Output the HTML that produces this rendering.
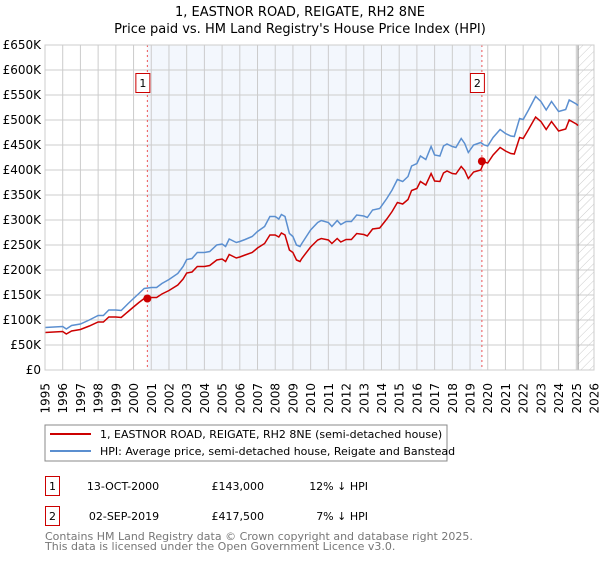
<!DOCTYPE html>
<html><head><meta charset="utf-8"><style>
body{margin:0;background:#fff;font-family:"DejaVu Sans","Liberation Sans",sans-serif;}
svg text{font-family:"DejaVu Sans","Liberation Sans",sans-serif;}
</style></head><body>
<svg id="chart" width="600" height="560" xmlns="http://www.w3.org/2000/svg">
<defs><pattern id="hatch" width="6" height="6" patternUnits="userSpaceOnUse" patternTransform="rotate(45)"><line x1="0" y1="0" x2="0" y2="6" stroke="#ccc" stroke-width="1"/></pattern></defs>
<text x="300" y="16" text-anchor="middle" font-size="13">1, EASTNOR ROAD, REIGATE, RH2 8NE</text>
<text x="300" y="33" text-anchor="middle" font-size="13">Price paid vs. HM Land Registry's House Price Index (HPI)</text>
<g id="plot"></g>
<rect x="45" y="425" width="402" height="36" fill="#fff" stroke="#888"/>
<line x1="50" y1="434" x2="91" y2="434" stroke="#cc0000" stroke-width="2"/>
<text x="100" y="438" font-size="11">1, EASTNOR ROAD, REIGATE, RH2 8NE (semi-detached house)</text>
<line x1="50" y1="451" x2="91" y2="451" stroke="#5b8fd0" stroke-width="2"/>
<text x="100" y="455" font-size="11">HPI: Average price, semi-detached house, Reigate and Banstead</text>
<g>
<rect x="45.5" y="476.5" width="14" height="19" fill="#fff" stroke="#c00"/>
<text x="52.5" y="490" text-anchor="middle" font-size="11">1</text>
<text x="123" y="490" text-anchor="middle" font-size="11">13-OCT-2000</text>
<text x="264" y="490" text-anchor="end" font-size="11">£143,000</text>
<text x="368" y="490" text-anchor="end" font-size="11">12% ↓ HPI</text></g>
<g>
<rect x="45.5" y="506.5" width="14" height="19" fill="#fff" stroke="#c00"/>
<text x="52.5" y="520" text-anchor="middle" font-size="11">2</text>
<text x="124" y="520" text-anchor="middle" font-size="11">02-SEP-2019</text>
<text x="264" y="520" text-anchor="end" font-size="11">£417,500</text>
<text x="368" y="520" text-anchor="end" font-size="11">7% ↓ HPI</text></g>
<text x="45" y="540" font-size="11" fill="#777">Contains HM Land Registry data © Crown copyright and database right 2025.</text>
<text x="45" y="550" font-size="11" fill="#777">This data is licensed under the Open Government Licence v3.0.</text>
</svg>
<script>
const years = [1995,1996,1996.2,1996.5,1997,1997.5,1998,1998.3,1998.6,1999,1999.3,1999.7,2000,2000.3,2000.6,2001,2001.3,2001.6,2002,2002.5,2002.8,2003,2003.3,2003.6,2004,2004.3,2004.7,2005,2005.2,2005.4,2005.8,2006,2006.3,2006.7,2007,2007.4,2007.7,2008,2008.2,2008.35,2008.55,2008.8,2009,2009.2,2009.4,2009.5,2010,2010.4,2010.6,2011,2011.2,2011.5,2011.7,2012,2012.3,2012.6,2013,2013.2,2013.5,2013.9,2014.3,2014.6,2014.9,2015.2,2015.5,2015.7,2016,2016.2,2016.5,2016.8,2017,2017.3,2017.5,2017.7,2018,2018.2,2018.5,2018.7,2018.9,2019.2,2019.6,2019.8,2020,2020.3,2020.7,2021,2021.3,2021.5,2021.8,2022,2022.3,2022.7,2023,2023.3,2023.6,2024,2024.4,2024.6,2025,2025.1];
const hpiValues = [85,87,82,89,92,100,109,109,120,120,119,133,143,153,163,165,165,173,181,193,207,221,223,235,235,237,250,252,247,262,255,257,261,267,277,287,307,307,302,311,307,273,267,250,247,253,280,295,299,295,287,299,291,297,297,310,308,305,320,323,343,360,381,377,387,408,413,428,421,447,430,428,448,452,447,445,463,453,435,450,455,450,448,465,481,473,468,467,503,501,520,547,537,520,537,517,521,540,532,529];
const priceValues = [75,77,72,78,81,88,96,96,106,106,105,117,126,135,143,145,145,152,159,170,182,194,196,207,207,209,220,222,217,231,224,226,230,235,244,253,270,270,266,274,270,240,235,220,217,223,246,260,263,260,253,263,256,261,261,273,271,268,282,284,302,317,335,332,341,359,363,377,370,393,378,377,394,398,393,392,407,399,383,396,400,416,414,430,445,438,433,432,465,463,481,506,497,481,497,478,482,500,492,489];
const yTicks = [0,50,100,150,200,250,300,350,400,450,500,550,600,650];
const yTickLabels = ["£0","£50K","£100K","£150K","£200K","£250K","£300K","£350K","£400K","£450K","£500K","£550K","£600K","£650K"];
const xTicks = [1995,1996,1997,1998,1999,2000,2001,2002,2003,2004,2005,2006,2007,2008,2009,2010,2011,2012,2013,2014,2015,2016,2017,2018,2019,2020,2021,2022,2023,2024,2025,2026];
const saleYears = [2000.78,2019.67];
const salePrices = [143,417.5];
const saleLabels = ["1","2"];
const X0=45,X1=594,Y0=370,Y1=45,xmin=1995,xmax=2026,ymax=650;
const x=v=>X0+(v-xmin)/(xmax-xmin)*(X1-X0);
const y=v=>Y0-v/ymax*(Y0-Y1);
const NS="http://www.w3.org/2000/svg";
const g=document.getElementById('plot');
function mk(t,a){const e=document.createElementNS(NS,t);for(const k in a)e.setAttribute(k,a[k]);g.appendChild(e);return e;}
let e;
e=mk('rect',{x:x(saleYears[0]),y:Y1,width:x(saleYears[1])-x(saleYears[0]),height:Y0-Y1,fill:'#eef3fc',opacity:0.7});


e=mk('rect',{x:x(2025.1),y:Y1,width:X1-x(2025.1),height:Y0-Y1,fill:'url(#hatch)'});


yTicks.forEach((t,i)=>{
 e=mk('line',{x1:X0,x2:X1,y1:y(t),y2:y(t),stroke:'#ccc','stroke-width':1});
 
 
 e=mk('text',{x:X0-4,y:y(t)+4,'text-anchor':'end','font-size':12});
 e.textContent=yTickLabels[i];
 
 
});
xTicks.forEach(t=>{
 e=mk('line',{x1:x(t),x2:x(t),y1:Y1,y2:Y0,stroke:'#ccc','stroke-width':1});
 
 
 e=mk('text',{x:0,y:0,'text-anchor':'end','font-size':12,transform:`translate(${x(t)+4.5},383) rotate(-90)`});
 e.textContent=t;
 
 
});
e=mk('line',{x1:x(2025.1),x2:x(2025.1),y1:Y1,y2:Y0,stroke:'#888','stroke-width':1});


saleYears.forEach((s,i)=>{
 e=mk('line',{x1:x(s),x2:x(s),y1:Y1,y2:Y0,stroke:'#e55','stroke-width':1,'stroke-dasharray':'2,3'});
 
 
});
function path(vals){return years.map((yr,i)=>(i?'L':'M')+x(yr).toFixed(1)+','+y(vals[i]).toFixed(1)).join('');}
e=mk('path',{d:path(hpiValues),fill:'none',stroke:'#5b8fd0','stroke-width':1.5});


e=mk('path',{d:path(priceValues),fill:'none',stroke:'#cc0000','stroke-width':1.5});


saleYears.forEach((s,i)=>{
 e=mk('circle',{cx:x(s),cy:y(salePrices[i]),r:4,fill:'#cc0000'});
 
 
 e=mk('rect',{x:x(s)-11.5,y:73.5,width:14,height:19,fill:'#fff',stroke:'#c00'});
 
 
 e=mk('text',{x:x(s)-4.5,y:87,'text-anchor':'middle','font-size':11});
 e.textContent=saleLabels[i];
 
 
});
e=mk('rect',{x:X0,y:Y1,width:X1-X0,height:Y0-Y1,fill:'none',stroke:'#ccc'});


</script>
</body></html>
